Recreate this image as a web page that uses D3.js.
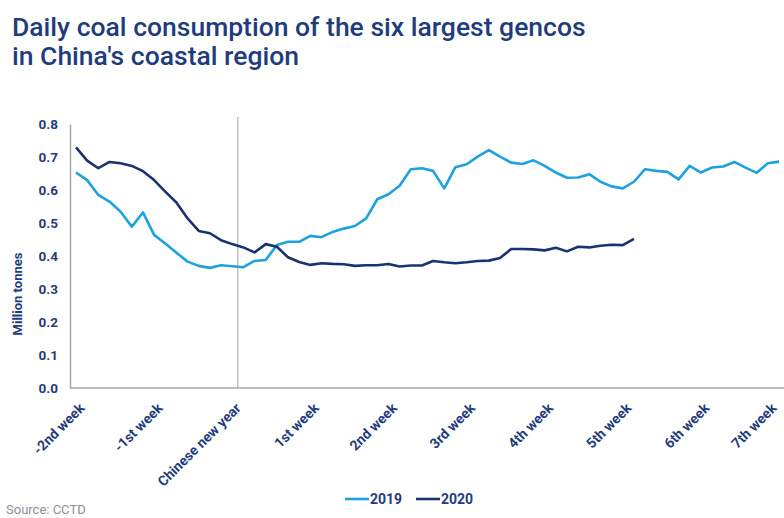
<!DOCTYPE html>
<html>
<head>
<meta charset="utf-8">
<script src="https://cdn.jsdelivr.net/npm/d3@7"></script>
<style>
  body { margin: 0; background: #fff; }
  svg text { font-family: Roboto, "Noto Sans", sans-serif; }
</style>
</head>
<body>
<div id="chart"></div>
<script>
// week labels, one every 7 days
var weekLabels = ["-2nd week", "-1st week", "Chinese new year", "1st week", "2nd week",
                  "3rd week", "4th week", "5th week", "6th week", "7th week"];

// daily values, million tonnes
var values2019 = [0.653, 0.630, 0.585, 0.565, 0.534, 0.489, 0.532, 0.464, 0.438, 0.410,
                  0.383, 0.370, 0.364, 0.372, 0.369, 0.366, 0.385, 0.388, 0.433, 0.443,
                  0.443, 0.461, 0.457, 0.473, 0.483, 0.491, 0.514, 0.572, 0.587, 0.613,
                  0.663, 0.666, 0.658, 0.605, 0.669, 0.678, 0.701, 0.721, 0.701, 0.683,
                  0.679, 0.690, 0.673, 0.653, 0.637, 0.638, 0.648, 0.625, 0.611, 0.605,
                  0.625, 0.663, 0.658, 0.655, 0.632, 0.673, 0.653, 0.668, 0.671, 0.685,
                  0.668, 0.652, 0.681, 0.686];

var values2020 = [0.729, 0.689, 0.666, 0.685, 0.681, 0.673, 0.657, 0.630, 0.595, 0.562,
                  0.514, 0.476, 0.469, 0.448, 0.436, 0.426, 0.411, 0.436, 0.428, 0.396,
                  0.382, 0.373, 0.378, 0.376, 0.375, 0.370, 0.372, 0.372, 0.376, 0.368,
                  0.371, 0.371, 0.385, 0.381, 0.378, 0.381, 0.385, 0.386, 0.394, 0.421,
                  0.421, 0.420, 0.417, 0.425, 0.414, 0.428, 0.426, 0.431, 0.434, 0.433,
                  0.452];

var yTicks = [0, 0.1, 0.2, 0.3, 0.4, 0.5, 0.6, 0.7, 0.8];

var color2019 = "#1ea1dd";
var color2020 = "#1a3270";
var navy = "#1f3c7c";

var svgWidth = 784, svgHeight = 518;

var svg = d3.select("#chart")
    .append("svg")
    .attr("width", svgWidth)
    .attr("height", svgHeight);

// title
var title = svg.append("text")
    .attr("x", 12)
    .attr("y", 36)
    .attr("fill", navy)
    .attr("font-size", 26.5)
    .attr("font-weight", 500);
title.append("tspan").attr("x", 12).text("Daily coal consumption of the six largest gencos");
title.append("tspan").attr("x", 12).attr("dy", 29).text("in China's coastal region");

// scales
var xScale = d3.scaleLinear()
    .domain([0, 63])
    .range([76, 779]);

var yScale = d3.scaleLinear()
    .domain([0, 0.8])
    .range([388, 124]);

// chinese new year marker
svg.append("line")
    .attr("x1", xScale(14.5))
    .attr("x2", xScale(14.5))
    .attr("y1", 117)
    .attr("y2", yScale(0))
    .attr("stroke", "#a6a6a6")
    .attr("stroke-width", 1);

// y axis
var yAxis = d3.axisLeft(yScale)
    .tickValues(yTicks)
    .tickFormat(d3.format(".1f"))
    .tickSize(0)
    .tickPadding(12);

var yg = svg.append("g")
    .attr("transform", "translate(70,0)")
    .call(yAxis);
yg.select(".domain").attr("stroke", "#a6a6a6").attr("stroke-width", 1.5);
yg.selectAll("text")
    .attr("fill", navy)
    .attr("font-size", 13.5)
    .attr("font-weight", 700)
    .attr("font-family", "Roboto, sans-serif");

// x axis
var xAxis = d3.axisBottom(xScale)
    .tickValues(d3.range(weekLabels.length).map(function(i) { return i * 7; }))
    .tickFormat(function(d) { return weekLabels[d / 7]; })
    .tickSize(0);

var xg = svg.append("g")
    .attr("transform", "translate(0," + yScale(0) + ")")
    .call(xAxis);
xg.select(".domain")
    .attr("d", "M70,0H784")
    .attr("stroke", "#a6a6a6")
    .attr("stroke-width", 1.5);
xg.selectAll("text")
    .attr("fill", navy)
    .attr("font-size", 14)
    .attr("font-weight", 700)
    .attr("font-family", "Roboto, sans-serif")
    .attr("text-anchor", "end")
    .attr("dy", null)
    .attr("y", 0)
    .attr("transform", function(d) {
        // keep the last label inside the frame
        var dx = Math.min(9, 777 - xScale(d));
        return "translate(" + dx + ",21) rotate(-45)";
    });

// y axis title
svg.append("text")
    .attr("transform", "translate(22,294) rotate(-90)")
    .attr("text-anchor", "middle")
    .attr("fill", navy)
    .attr("font-size", 13)
    .attr("font-weight", 700)
    .text("Million tonnes");

// lines
var line = d3.line()
    .x(function(d, i) { return xScale(i); })
    .y(function(d) { return yScale(d); });

svg.append("path")
    .datum(values2019)
    .attr("fill", "none")
    .attr("stroke", color2019)
    .attr("stroke-width", 2.6)
    .attr("stroke-linejoin", "round")
    .attr("d", line);

svg.append("path")
    .datum(values2020)
    .attr("fill", "none")
    .attr("stroke", color2020)
    .attr("stroke-width", 2.6)
    .attr("stroke-linejoin", "round")
    .attr("d", line);

// legend
var legend = [{name: "2019", color: color2019, x: 345}, {name: "2020", color: color2020, x: 416}];
var lg = svg.selectAll(".legend")
    .data(legend)
    .enter()
    .append("g")
    .attr("class", "legend")
    .attr("transform", function(d) { return "translate(" + d.x + ",499)"; });
lg.append("line")
    .attr("x1", 0).attr("x2", 24)
    .attr("y1", 0).attr("y2", 0)
    .attr("stroke", function(d) { return d.color; })
    .attr("stroke-width", 2.6);
lg.append("text")
    .attr("x", 25)
    .attr("y", 5)
    .attr("fill", navy)
    .attr("font-size", 14)
    .attr("font-weight", 700)
    .text(function(d) { return d.name; });

// source
svg.append("text")
    .attr("x", 6)
    .attr("y", 514)
    .attr("fill", "#8a8f99")
    .attr("font-size", 13)
    .text("Source: CCTD");
</script>
</body>
</html>
